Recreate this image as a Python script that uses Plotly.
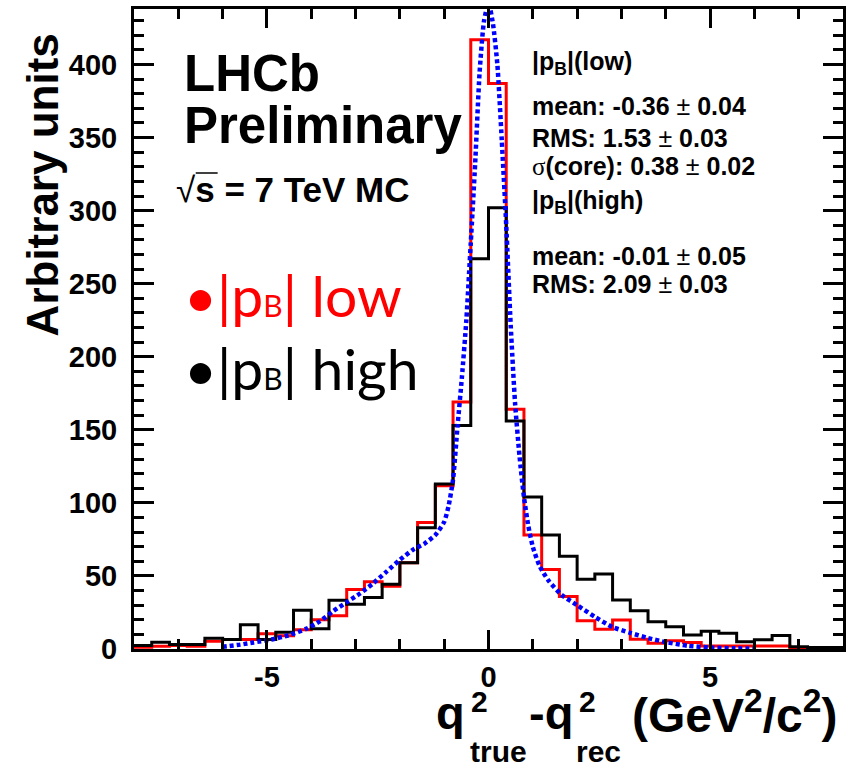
import numpy as np
import plotly.graph_objects as go

# ---- histogram binning: 40 bins of 0.4 between -8 and 8 ----
x_min = -8.0
bin_width = 0.4

# |p_B| low sample (red)
counts_low = [1.2, 1.8, 2.4, 1.8, 5.3, 6.5, 6.5, 10.4, 9.0, 13.2,
              20.0, 22.7, 40.7, 46.0, 43.0, 59.0, 86.5, 111.7, 169.0, 417.0,
              387.0, 164.0, 78.0, 54.4, 36.0, 19.4, 13.5, 19.8, 6.6, 3.9,
              5.7, 4.5, 2.0, 2.0, 2.0, 2.0, 2.0, 0.0, 0.0, 0.0]

# |p_B| high sample (black)
counts_high = [2.4, 4.7, 3.1, 3.1, 7.4, 6.5, 16.6, 6.5, 11.5, 26.5,
               13.9, 33.3, 30.6, 35.2, 44.3, 59.0, 83.0, 113.0, 153.0, 267.0,
               302.0, 156.0, 104.0, 78.0, 63.5, 47.7, 51.3, 33.5, 26.2, 18.7,
               15.3, 9.5, 12.1, 10.7, 5.0, 6.4, 9.3, 1.5, 1.0, 1.0]

# fitted resolution function (blue dotted)
fit_x = [-6.0, -5.6, -5.3, -4.9, -4.5, -4.1, -3.8, -3.5, -3.2, -2.9,
         -2.6, -2.3, -2.0, -1.7, -1.45, -1.2, -1.0, -0.9, -0.8, -0.7,
         -0.6, -0.5, -0.4, -0.3, -0.2, -0.1, 0.0, 0.1, 0.2, 0.3,
         0.4, 0.5, 0.6, 0.7, 0.8, 0.9, 1.0, 1.15, 1.35, 1.65,
         2.0, 2.4, 2.8, 3.2, 3.6, 4.0, 4.5, 5.0, 5.5, 6.0]
fit_y = [1.5, 3.0, 4.5, 6.5, 9.5, 14.0, 19.0, 26.0, 32.0, 38.0,
         45.0, 53.0, 61.0, 68.0, 72.0, 78.0, 87.0, 98.0, 116.0, 152.0,
         186.0, 225.0, 278.0, 333.0, 395.0, 430.0, 442.0, 428.0, 400.0, 348.0,
         290.0, 222.0, 168.0, 132.0, 104.0, 84.0, 70.0, 57.0, 47.0, 37.0,
         30.0, 22.0, 15.0, 11.0, 7.5, 4.7, 2.2, 1.0, 0.5, 0.3]

x_tick_vals = [-5, 0, 5]
x_tick_text = ["-5", "0", "5"]
x_minor_vals = list(range(-8, 9))
y_range = [0, 438]

edges = np.round(x_min + bin_width * np.arange(len(counts_low) + 1), 2)


def step_xy(counts):
    return list(edges), list(counts) + [counts[-1]]


fig = go.Figure()
for counts, colour in ((counts_low, "#ff0000"), (counts_high, "#000000")):
    sx, sy = step_xy(counts)
    fig.add_trace(go.Scatter(x=sx, y=sy, mode="lines",
                             line=dict(color=colour, width=3, shape="hv"),
                             hoverinfo="skip"))

fig.add_trace(go.Scatter(x=fit_x, y=fit_y, mode="lines",
                         line=dict(color="#0000ff", width=4.5, dash="4px,3px",
                                   shape="spline", smoothing=0.6),
                         hoverinfo="skip"))

# plot-area geometry in pixels (used to place free text)
W, H = 849, 770
L, R, T, B = 134, 3, 9, 121
PW, PH = W - L - R, H - T - B


def px(xp):
    return (xp - L) / PW


def py(yp):
    return (H - B - yp) / PH


BOLD = "Liberation Sans"
tick_font = dict(family=BOLD, size=29, color="black", weight="bold")

fig.update_layout(
    width=W, height=H,
    margin=dict(l=L, r=R, t=T, b=B, pad=0),
    paper_bgcolor="white", plot_bgcolor="white",
    showlegend=False,
)

fig.update_xaxes(
    range=[x_min, -x_min], tickmode="array", tickvals=x_tick_vals, ticktext=x_tick_text,
    ticks="inside", ticklen=19, tickwidth=3, tickcolor="black",
    showline=True, linewidth=3, linecolor="black", mirror="allticks",
    showgrid=False, zeroline=False, tickfont=tick_font, ticklabelstandoff=0,
    minor=dict(tickmode="array", tickvals=x_minor_vals, ticks="inside",
               ticklen=10, tickwidth=3, tickcolor="black", showgrid=False),
)
fig.update_yaxes(
    range=y_range, tickmode="linear", tick0=0, dtick=50,
    ticks="inside", ticklen=20, tickwidth=3, tickcolor="black",
    showline=True, linewidth=3, linecolor="black", mirror="allticks",
    showgrid=False, zeroline=False, tickfont=tick_font, ticklabelstandoff=8,
    minor=dict(tickmode="linear", tick0=0, dtick=10, ticks="inside",
               ticklen=10, tickwidth=3, tickcolor="black", showgrid=False),
)


def label(text, xp, yp_mid, size, family=BOLD, weight="bold", color="black",
          xanchor="left", angle=0):
    fig.add_annotation(text=text, x=px(xp), y=py(yp_mid), xref="paper", yref="paper",
                       xanchor=xanchor, yanchor="middle", showarrow=False,
                       textangle=angle, borderpad=0,
                       font=dict(family=family, size=size, color=color, weight=weight))


def mid(baseline, size, k=0.3465):
    return baseline - k * size


# axis titles
label("Arbitrary units", 42, 185, 44, xanchor="center", angle=-90)
label("q", 436, mid(729, 47), 47)
label("2", 471, mid(712, 30), 30)
label("true", 470, mid(762, 30), 30)
label("-q", 530, mid(729, 47), 47)
label("2", 580, mid(712, 30), 30)
label("rec", 577, mid(762, 30), 30)
label("(GeV<sup>2</sup>/c<sup>2</sup>)", 633, mid(729, 48), 48)

# experiment tag
label("LHCb", 183, mid(91, 51), 51)
label("Preliminary", 183, mid(143, 51), 51)
label("<span style=\"font-weight:normal\">√</span>s = 7 TeV MC", 175, mid(202, 35), 35)
# bar of the square root over "s"
fig.add_shape(type="line", xref="paper", yref="paper",
              x0=px(196), x1=px(218), y0=py(173), y1=py(173),
              line=dict(color="black", width=1.5))

# sample labels
LATO_K = (0.987 - 0.213) / 2
label("•|p<span style=\"font-size:30px\">B</span>| low", 183, mid(317, 57, LATO_K), 57,
      family="Lato", weight="normal", color="#ff0000")
label("•|p<span style=\"font-size:30px\">B</span>| high", 183, mid(390, 57, LATO_K), 57,
      family="Lato", weight="normal", color="#000000")

# fit statistics
PM = "<span style=\"font-weight:normal\">±</span>"
SIG = "<span style=\"font-family:Liberation Serif;font-weight:normal\">σ</span>"
stats = [
    ("|p<sub>B</sub>|(low)", 72),
    (f"mean: -0.36 {PM} 0.04", 115),
    (f"RMS: 1.53 {PM} 0.03", 147),
    (f"{SIG}(core): 0.38 {PM} 0.02", 175),
    ("|p<sub>B</sub>|(high)", 211),
    (f"mean: -0.01 {PM} 0.05", 265),
    (f"RMS: 2.09 {PM} 0.03", 293),
]
for text, base in stats:
    label(text, 533, mid(base, 25), 25)

fig.write_html("out.html")
